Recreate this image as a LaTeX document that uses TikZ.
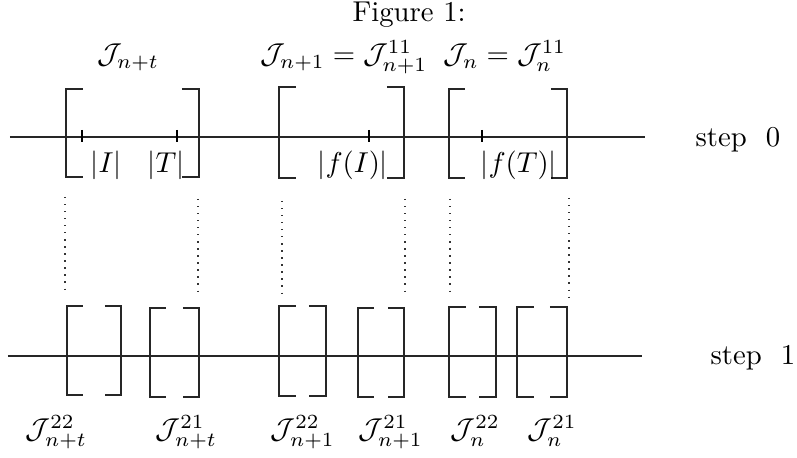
\documentclass[tikz,border=0pt]{standalone}
\usetikzlibrary{calc}

% square bracket pair: #1 left x, #2 right x, #3 top y, #4 bottom y, #5 serif length
\newcommand\sqbrpair[5]{%
  \draw[brline] (#1+#5,#3) -- (#1,#3) -- (#1,#4) -- (#1+#5,#4);
  \draw[brline] (#2-#5,#3) -- (#2,#3) -- (#2,#4) -- (#2-#5,#4);
}

\tikzset{
  axis/.style={line width=0.45pt, black!85},
  brline/.style={line width=0.45pt, black!85},
  tickmark/.style={line width=0.9pt, black},
  guide/.style={line width=0.45pt, dotted, black!80},
  lbl/.style={inner sep=0pt, anchor=base west}
}

\begin{document}
\begin{tikzpicture}[x=0.348pt, y=-0.348pt]
  \useasboundingbox (0,0) rectangle (797,458);

  % caption and interval names above step 0
  \node[lbl] (cap) at (352,22) {Figure 1:};
  \node[lbl] (jnt) at (97,64) {$\mathcal{J}_{n+t}$};
  \node[lbl] (jn1) at (260,64) {$\mathcal{J}_{n+1}=\mathcal{J}_{n+1}^{11}$};
  \node[lbl] (jn)  at (443,64) {$\mathcal{J}_{n}=\mathcal{J}_{n}^{11}$};

  % step 0 line
  \coordinate (a0) at (10,137);
  \coordinate (b0) at (645,137);
  \draw[axis] (a0) -- (b0);
  \sqbrpair{66}{199}{89}{177}{17}
  \sqbrpair{279}{404}{87}{178}{17}
  \sqbrpair{449}{567}{89}{178}{16}

  % marked points
  \foreach \px in {82,177,369,482}
    \draw[tickmark] (\px,130) -- (\px,142);
  \node[lbl] (lI)  at (90,173)  {$|I|$};
  \node[lbl] (lT)  at (147,173) {$|T|$};
  \node[lbl] (lfI) at (317,173) {$|f(I)|$};
  \node[lbl] (lfT) at (480,173) {$|f(T)|$};
  \node[lbl] (s0) at (695,147) {step\ \ 0};

  % dotted guides between the steps
  \foreach \gx/\gt/\gb in {65/197/295, 198/199/297, 282/201/298,
                           405/199/297, 450/199/297, 569/198/297}
    \draw[guide] (\gx,\gt) -- (\gx,\gb);

  % step 1 line
  \coordinate (a1) at (8,356);
  \coordinate (b1) at (642,356);
  \draw[axis] (a1) -- (b1);
  \sqbrpair{67}{121}{306}{395}{16}
  \sqbrpair{150}{199}{308}{397}{16}
  \sqbrpair{279}{326}{306}{396}{17}
  \sqbrpair{358}{404}{308}{397}{16}
  \sqbrpair{449}{496}{307}{397}{17}
  \sqbrpair{517}{567}{307}{397}{17}
  \node[lbl] (s1) at (710,365) {step\ \ 1};

  % sub-interval names
  \node[lbl] (k1) at (25,439)  {$\mathcal{J}_{n+t}^{22}$};
  \node[lbl] (k2) at (155,439) {$\mathcal{J}_{n+t}^{21}$};
  \node[lbl] (k3) at (270,439) {$\mathcal{J}_{n+1}^{22}$};
  \node[lbl] (k4) at (358,439) {$\mathcal{J}_{n+1}^{21}$};
  \node[lbl] (k5) at (450,439) {$\mathcal{J}_{n}^{22}$};
  \node[lbl] (k6) at (527,439) {$\mathcal{J}_{n}^{21}$};
\end{tikzpicture}
\end{document}
